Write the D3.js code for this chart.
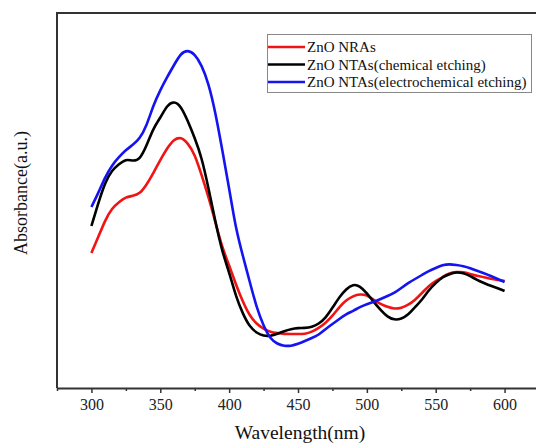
<!DOCTYPE html>
<html>
<head>
<meta charset="utf-8">
<script src="https://cdn.jsdelivr.net/npm/d3@7"></script>
<style>
  body { margin: 0; background: #fff; }
  svg { display: block; font-family: "Liberation Serif", "DejaVu Serif", serif; }
</style>
</head>
<body>
<svg width="536" height="443"></svg>
<script>
// wavelengths (nm), 5 nm steps
const wavelength = d3.range(300, 601, 5);

const nras = [0.540,0.604,0.672,0.720,0.744,0.764,0.768,0.776,0.812,0.860,0.912,0.960,0.996,1.004,0.980,0.936,0.852,0.764,0.664,0.560,
  0.492,0.412,0.344,0.288,0.256,0.236,0.224,0.220,0.216,0.216,0.216,0.216,0.224,0.240,0.260,0.288,0.324,0.352,0.368,0.376,
  0.372,0.352,0.336,0.324,0.316,0.320,0.332,0.352,0.380,0.408,0.428,0.444,0.460,0.464,0.464,0.456,0.448,0.444,0.436,0.432,0.428];

const ntasChem = [0.648,0.740,0.824,0.872,0.896,0.916,0.908,0.912,0.968,1.040,1.080,1.132,1.148,1.128,1.068,1.000,0.924,0.800,0.664,0.544,
  0.464,0.364,0.296,0.244,0.220,0.208,0.208,0.216,0.228,0.236,0.240,0.240,0.244,0.256,0.280,0.320,0.364,0.396,0.416,0.408,
  0.380,0.344,0.312,0.284,0.272,0.276,0.292,0.324,0.352,0.392,0.420,0.444,0.456,0.464,0.460,0.448,0.432,0.420,0.408,0.400,0.388];

const ntasElec = [0.724,0.780,0.844,0.892,0.924,0.952,0.972,0.996,1.048,1.132,1.192,1.244,1.292,1.340,1.352,1.336,1.292,1.220,1.104,0.952,
  0.800,0.632,0.528,0.424,0.320,0.248,0.196,0.176,0.168,0.168,0.176,0.188,0.200,0.212,0.236,0.256,0.276,0.296,0.308,0.324,
  0.336,0.344,0.356,0.368,0.380,0.400,0.420,0.436,0.452,0.468,0.480,0.492,0.496,0.492,0.488,0.480,0.468,0.460,0.448,0.436,0.424];

const seriesNames = ["ZnO NRAs", "ZnO NTAs(chemical etching)", "ZnO NTAs(electrochemical etching)"];
const seriesColors = ["#f01414", "#000000", "#1414f0"];
const xTicks = [300, 350, 400, 450, 500, 550, 600];
const xMinorTicks = [275, 325, 375, 425, 475, 525, 575];

const series = [nras, ntasChem, ntasElec].map((vals, i) => ({
  name: seriesNames[i],
  color: seriesColors[i],
  points: wavelength.map((w, j) => [w, vals[j]])
}));

const svg = d3.select("svg");
const plotL = 57, plotR = 539, plotT = 13, plotB = 388;

const x = d3.scaleLinear().domain([275, 625]).range([plotL, plotR]);
const y = d3.scaleLinear().domain([0, 1.5]).range([plotB, plotT]);

// frame: top + left lines
svg.append("path")
  .attr("d", `M${plotL},${plotB}V${plotT}H${plotR}`)
  .attr("fill", "none")
  .attr("stroke", "#333")
  .attr("stroke-width", 2);

// bottom axis, major ticks
const xAxis = svg.append("g")
  .attr("transform", `translate(0,${plotB})`)
  .call(d3.axisBottom(x).tickValues(xTicks).tickSize(5).tickSizeOuter(0).tickPadding(6))
  .attr("font-family", null)
  .attr("font-size", null);
xAxis.select(".domain").attr("stroke", "#333").attr("stroke-width", 2);
xAxis.selectAll(".tick line").attr("stroke", "#333").attr("stroke-width", 1.5);
xAxis.selectAll(".tick text")
  .attr("font-size", 16)
  .attr("fill", "#222");

// minor ticks
svg.append("g")
  .attr("transform", `translate(0,${plotB})`)
  .call(d3.axisBottom(x).tickValues(xMinorTicks).tickSize(3).tickFormat(""))
  .call(g => g.select(".domain").remove())
  .selectAll(".tick line").attr("stroke", "#333").attr("stroke-width", 1.5);

// curves
const line = d3.line()
  .x(d => x(d[0]))
  .y(d => y(d[1]))
  .curve(d3.curveBasis);

svg.append("g")
  .selectAll("path")
  .data(series)
  .join("path")
  .attr("d", d => line(d.points))
  .attr("fill", "none")
  .attr("stroke", d => d.color)
  .attr("stroke-width", 2.6)
  .attr("stroke-linejoin", "round");

// axis titles
svg.append("text")
  .attr("x", 300)
  .attr("y", 439)
  .attr("text-anchor", "middle")
  .attr("font-size", 19.5)
  .attr("fill", "#111")
  .text("Wavelength(nm)");

svg.append("text")
  .attr("transform", "translate(27,193) rotate(-90)")
  .attr("text-anchor", "middle")
  .attr("font-size", 18)
  .attr("fill", "#111")
  .text("Absorbance(a.u.)");

// legend
const legend = svg.append("g");
legend.append("rect")
  .attr("x", 267.5)
  .attr("y", 34.5)
  .attr("width", 264)
  .attr("height", 58)
  .attr("fill", "#fff")
  .attr("stroke", "#888")
  .attr("stroke-width", 1);

const rows = legend.selectAll(".row")
  .data(series)
  .join("g")
  .attr("class", "row")
  .attr("transform", (d, i) => `translate(0,${47 + i * 17.5})`);

rows.append("line")
  .attr("x1", 268).attr("x2", 305)
  .attr("stroke", d => d.color)
  .attr("stroke-width", 2.6);

rows.append("text")
  .attr("x", 307)
  .attr("y", 5)
  .attr("font-size", 15)
  .attr("fill", "#111")
  .text(d => d.name);
</script>
</body>
</html>
